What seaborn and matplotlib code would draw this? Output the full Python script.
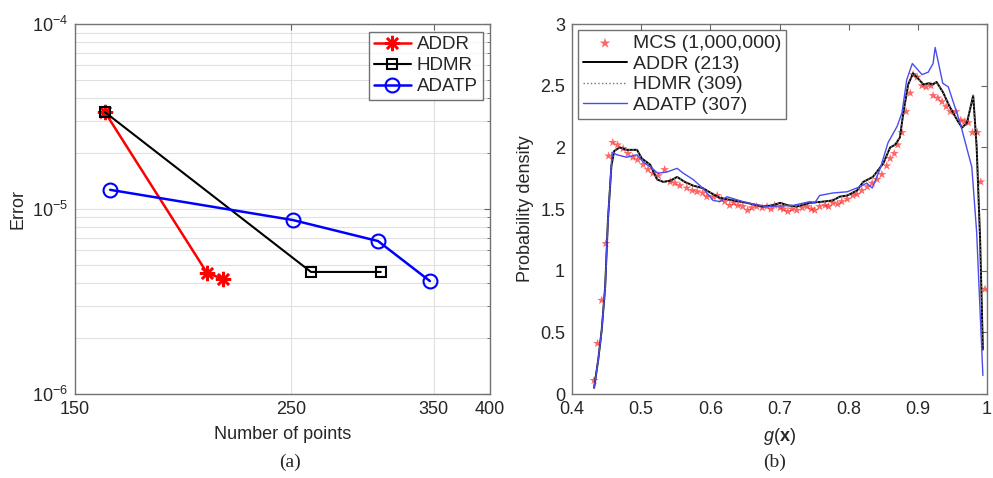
import numpy as np
import matplotlib
matplotlib.use("Agg")
import matplotlib.pyplot as plt
import seaborn as sns
from matplotlib.ticker import NullLocator, LogLocator

# ---- panel (a): error vs number of points ----
addr_n = [161, 205, 213]
addr_err = [3.34e-5, 4.50e-6, 4.19e-6]
hdmr_n = [161, 262, 309]
hdmr_err = [3.34e-5, 4.57e-6, 4.57e-6]
adatp_n = [163, 251, 307, 347]
adatp_err = [1.27e-5, 8.72e-6, 6.71e-6, 4.08e-6]

# ---- panel (b): probability density of g(x) ----
mcs_x = [0.432, 0.437, 0.443, 0.449, 0.453, 0.459, 0.466, 0.474, 0.481, 0.488,
         0.495, 0.503, 0.510, 0.517, 0.525, 0.534, 0.542, 0.549, 0.556, 0.566,
         0.574, 0.581, 0.589, 0.595, 0.604, 0.610, 0.616, 0.621, 0.628, 0.634,
         0.640, 0.647, 0.654, 0.660, 0.667, 0.675, 0.682, 0.688, 0.693, 0.701,
         0.706, 0.712, 0.718, 0.725, 0.733, 0.740, 0.746, 0.751, 0.758, 0.766,
         0.771, 0.777, 0.784, 0.790, 0.798, 0.806, 0.812, 0.819, 0.827, 0.834,
         0.841, 0.848, 0.855, 0.860, 0.866, 0.871, 0.877, 0.883, 0.889, 0.893,
         0.899, 0.906, 0.912, 0.919, 0.922, 0.929, 0.935, 0.941, 0.947, 0.955,
         0.962, 0.968, 0.973, 0.979, 0.986, 0.991, 0.997]
mcs_y = [0.11, 0.41, 0.76, 1.22, 1.93, 2.04, 2.02, 1.99, 1.95, 1.92,
         1.90, 1.86, 1.82, 1.79, 1.77, 1.82, 1.72, 1.71, 1.69, 1.67,
         1.65, 1.64, 1.63, 1.60, 1.60, 1.61, 1.58, 1.56, 1.53, 1.55,
         1.53, 1.52, 1.49, 1.51, 1.52, 1.51, 1.52, 1.50, 1.53, 1.51,
         1.50, 1.48, 1.50, 1.49, 1.51, 1.52, 1.50, 1.49, 1.52, 1.53,
         1.52, 1.55, 1.54, 1.56, 1.58, 1.61, 1.62, 1.65, 1.68, 1.71,
         1.74, 1.78, 1.85, 1.91, 1.95, 2.02, 2.12, 2.29, 2.44, 2.59,
         2.57, 2.50, 2.49, 2.50, 2.42, 2.40, 2.37, 2.33, 2.29, 2.29,
         2.22, 2.21, 2.20, 2.12, 2.12, 1.72, 0.85]

addr_x = [0.432, 0.438, 0.443, 0.448, 0.452, 0.457, 0.461, 0.469, 0.479, 0.494,
          0.501, 0.513, 0.523, 0.532, 0.542, 0.552, 0.563, 0.575, 0.589, 0.604,
          0.614, 0.633, 0.653, 0.676, 0.690, 0.701, 0.712, 0.725, 0.744, 0.763,
          0.777, 0.787, 0.798, 0.812, 0.821, 0.835, 0.850, 0.860, 0.867, 0.874,
          0.879, 0.886, 0.893, 0.900, 0.908, 0.916, 0.921, 0.927, 0.936, 0.946,
          0.958, 0.964, 0.971, 0.980, 0.985, 0.990, 0.994]
addr_y = [0.05, 0.28, 0.52, 0.87, 1.41, 1.85, 1.97, 2.00, 1.98, 1.98,
          1.91, 1.86, 1.74, 1.72, 1.73, 1.76, 1.72, 1.69, 1.67, 1.62,
          1.59, 1.57, 1.55, 1.52, 1.53, 1.55, 1.53, 1.52, 1.55, 1.56,
          1.57, 1.60, 1.61, 1.65, 1.72, 1.76, 1.87, 2.00, 2.02, 2.08,
          2.28, 2.51, 2.60, 2.56, 2.51, 2.52, 2.51, 2.53, 2.45, 2.33,
          2.21, 2.16, 2.20, 2.42, 2.00, 1.25, 0.36]

hdmr_x = [0.432, 0.438, 0.443, 0.448, 0.452, 0.457, 0.461, 0.469, 0.479, 0.494,
          0.501, 0.513, 0.523, 0.532, 0.542, 0.552, 0.563, 0.575, 0.589, 0.604,
          0.614, 0.633, 0.653, 0.676, 0.690, 0.701, 0.712, 0.725, 0.744, 0.763,
          0.777, 0.787, 0.798, 0.812, 0.821, 0.835, 0.850, 0.860, 0.867, 0.874,
          0.879, 0.886, 0.893, 0.900, 0.908, 0.916, 0.921, 0.927, 0.936, 0.946,
          0.958, 0.964, 0.971, 0.980, 0.985, 0.990, 0.994]
hdmr_y = [0.05, 0.28, 0.52, 0.87, 1.41, 1.85, 1.97, 2.00, 1.98, 1.98,
          1.91, 1.86, 1.74, 1.72, 1.73, 1.76, 1.72, 1.69, 1.67, 1.62,
          1.59, 1.57, 1.55, 1.52, 1.53, 1.55, 1.53, 1.52, 1.55, 1.56,
          1.57, 1.60, 1.61, 1.65, 1.72, 1.76, 1.87, 2.00, 2.02, 2.08,
          2.28, 2.51, 2.60, 2.56, 2.51, 2.52, 2.51, 2.53, 2.45, 2.33,
          2.21, 2.16, 2.20, 2.42, 2.00, 1.25, 0.36]

adatp_x = [0.432, 0.438, 0.443, 0.448, 0.452, 0.458, 0.465, 0.479, 0.494, 0.503,
           0.516, 0.524, 0.537, 0.552, 0.561, 0.575, 0.589, 0.604, 0.614, 0.624,
           0.653, 0.682, 0.720, 0.744, 0.751, 0.758, 0.777, 0.798, 0.816, 0.826,
           0.834, 0.845, 0.857, 0.870, 0.877, 0.884, 0.892, 0.906, 0.915, 0.922,
           0.925, 0.936, 0.944, 0.961, 0.978, 0.985, 0.994]
adatp_y = [0.05, 0.28, 0.52, 0.87, 1.41, 1.96, 1.94, 1.92, 1.94, 1.88,
           1.83, 1.79, 1.80, 1.83, 1.79, 1.74, 1.67, 1.57, 1.56, 1.60,
           1.55, 1.52, 1.53, 1.56, 1.55, 1.61, 1.63, 1.64, 1.68, 1.71,
           1.67, 1.82, 2.04, 2.17, 2.28, 2.55, 2.68, 2.59, 2.61, 2.68,
           2.81, 2.52, 2.49, 2.20, 1.84, 1.31, 0.15]

sns.set_style("white")
plt.rcParams['font.family'] = ['Liberation Sans', 'DejaVu Sans']
plt.rcParams['mathtext.fontset'] = 'custom'
plt.rcParams['mathtext.rm'] = 'Liberation Sans'
plt.rcParams['mathtext.it'] = 'Liberation Sans:italic'
plt.rcParams['mathtext.bf'] = 'Liberation Sans:bold'

fig = plt.figure(figsize=(9.93, 4.78), dpi=100)
ax1 = fig.add_axes([0.0755, 0.1757, 0.418, 0.774])
ax2 = fig.add_axes([0.576, 0.1757, 0.418, 0.774])

# panel (a)
asterisk = (8, 2, 0)
sns.lineplot(x=addr_n, y=addr_err, ax=ax1, color='red', lw=1.8, marker=asterisk,
             markersize=11, markeredgecolor='red', markerfacecolor='red',
             markeredgewidth=1.8, label='ADDR', sort=False)
sns.lineplot(x=hdmr_n, y=hdmr_err, ax=ax1, color='black', lw=1.5, marker='s',
             markersize=7, markeredgecolor='black', markerfacecolor='none',
             markeredgewidth=1.5, label='HDMR', sort=False)
sns.lineplot(x=adatp_n, y=adatp_err, ax=ax1, color='blue', lw=1.8, marker='o',
             markersize=10, markeredgecolor='blue', markerfacecolor='none',
             markeredgewidth=1.5, label='ADATP', sort=False)

ax1.set_xscale('log')
ax1.set_yscale('log')
ax1.set_xlim(150, 400)
ax1.set_ylim(1e-6, 1e-4)
ax1.xaxis.set_minor_locator(NullLocator())
ax1.set_xticks([150, 250, 350, 400])
ax1.set_xticklabels(['150', '250', '350', '400'])
ax1.yaxis.set_major_locator(LogLocator(base=10))
ax1.yaxis.set_minor_locator(LogLocator(base=10, subs=np.arange(2, 10)))
ax1.grid(True, which='both', axis='y', color='0.88', lw=0.8)
ax1.grid(True, which='major', axis='x', color='0.88', lw=0.8)
ax1.set_xlabel('Number of points', fontsize=13, labelpad=6)
ax1.set_ylabel('Error', fontsize=13, labelpad=4)
ax1.legend(loc='upper right', fontsize=13.5, frameon=True, fancybox=False,
           edgecolor='0.3', handlelength=2.0, borderpad=0.25, labelspacing=0.2,
           handletextpad=0.3, borderaxespad=0.4)

# panel (b)
sns.scatterplot(x=mcs_x, y=mcs_y, ax=ax2, color='red', marker='*', s=45,
                alpha=0.6, edgecolor='none', label='MCS (1,000,000)', zorder=2)
sns.lineplot(x=addr_x, y=addr_y, ax=ax2, color='black', lw=1.4,
             label='ADDR (213)', sort=False, zorder=3)
sns.lineplot(x=hdmr_x, y=hdmr_y, ax=ax2, color='0.45', lw=1.0, ls=':',
             label='HDMR (309)', sort=False, zorder=4)
sns.lineplot(x=adatp_x, y=adatp_y, ax=ax2, color='#4b4bf0', lw=1.0,
             label='ADATP (307)', sort=False, zorder=5)

ax2.set_xlim(0.4, 1)
ax2.set_ylim(0, 3)
ax2.set_xticks([0.4, 0.5, 0.6, 0.7, 0.8, 0.9, 1.0])
ax2.set_xticklabels(['0.4', '0.5', '0.6', '0.7', '0.8', '0.9', '1'])
ax2.set_yticks([0, 0.5, 1, 1.5, 2, 2.5, 3])
ax2.set_yticklabels(['0', '0.5', '1', '1.5', '2', '2.5', '3'])
ax2.set_xlabel(r'$g$($\mathbf{x}$)', fontsize=13, labelpad=6)
ax2.set_ylabel('Probability density', fontsize=13, labelpad=4)
ax2.legend(loc='upper left', fontsize=14, frameon=True, fancybox=False,
           edgecolor='0.3', handlelength=2.3, borderpad=0.25, labelspacing=0.15,
           handletextpad=0.3, borderaxespad=0.3, markerscale=1.2)

for ax in (ax1, ax2):
    ax.tick_params(which='both', direction='in', top=True, right=True,
                   labelsize=13, color='0.4', pad=5)
    ax.tick_params(which='major', length=4)
    ax.tick_params(which='minor', length=2)
    for sp in ax.spines.values():
        sp.set_color('0.45')
        sp.set_linewidth(1.0)

fig.text(0.292, 0.033, '(a)', ha='center', va='center', fontsize=14,
         family='Liberation Serif')
fig.text(0.78, 0.033, '(b)', ha='center', va='center', fontsize=14,
         family='Liberation Serif')

fig.savefig('out.png', dpi=100)
